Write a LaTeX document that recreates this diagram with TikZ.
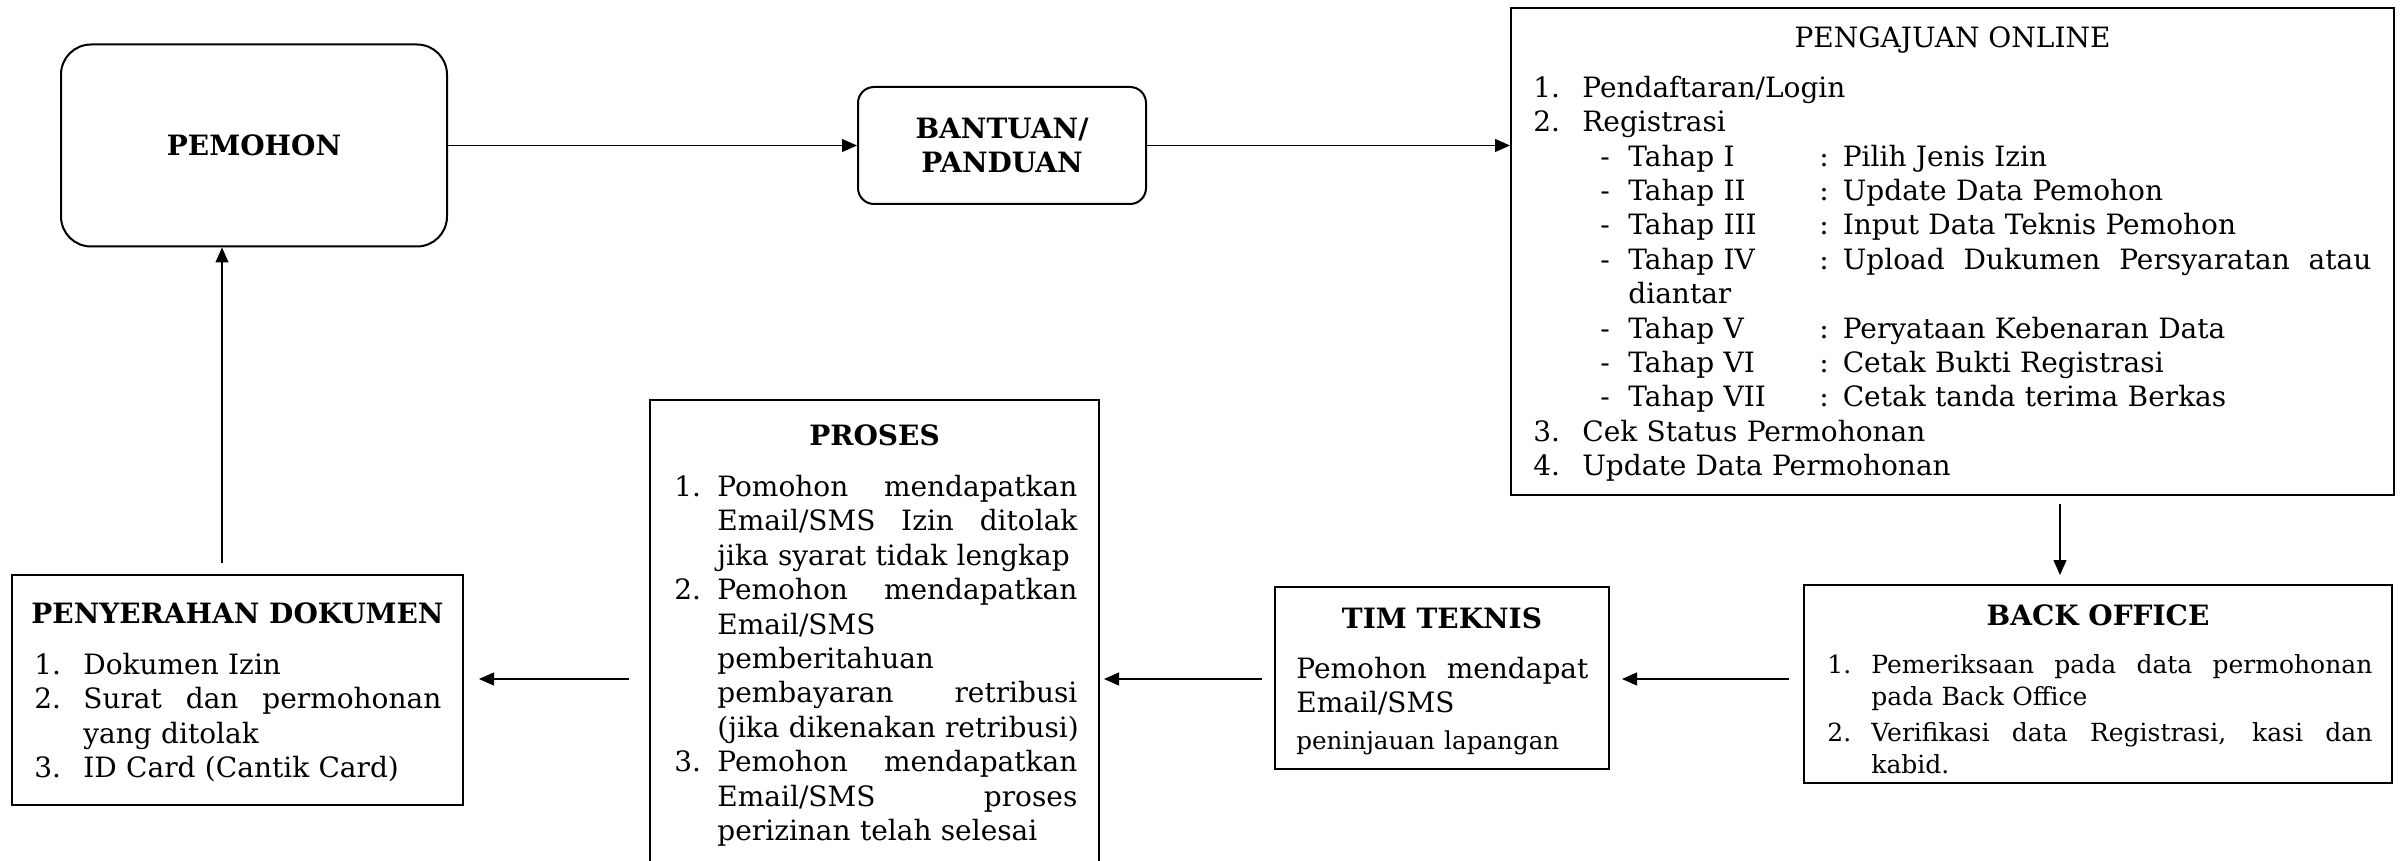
\documentclass[tikz,border=0pt]{standalone}
\usepackage{fontspec}
\setmainfont{DejaVu Serif}
\usetikzlibrary{arrows.meta}
\setlength\parindent{0pt}
\newcommand\jl[2]{\hbox to #1{\spaceskip=.3333em plus 1fil\relax #2}}
\begin{document}
\begin{tikzpicture}[x=0.5pt,y=-0.5pt,
  box/.style={draw, line width=1pt, inner sep=0pt},
  rbox/.style={box, rounded corners=#1},
  ttl/.style={font=\fontsize{14}{17}\selectfont\bfseries, inner sep=0pt, anchor=base},
  txt/.style={font=\fontsize{14}{17.2}\selectfont, inner sep=0pt, anchor=north west, align=left},
  arr/.style={line width=0.6pt, -{Triangle[length=7.5pt,width=6.5pt]}}]
\useasboundingbox (0,0) rectangle (2403,861);
\clip (0,0) rectangle (2403,861);

% boxes
\node[rbox=15pt, minimum width=193pt, minimum height=101pt, font=\fontsize{14}{17}\selectfont\bfseries] (pemohon) at (254,145.5) {PEMOHON};
\node[rbox=8pt, minimum width=144pt, minimum height=58.5pt, align=center, font=\fontsize{14}{17}\selectfont\bfseries] (bantuan) at (1002,145.5) {BANTUAN/\\PANDUAN};
\node[box, minimum width=441.5pt, minimum height=243.5pt] (pengajuan) at (1952.5,251.5) {};
\node[box, minimum width=294pt, minimum height=99pt] (backoffice) at (2098,684) {};
\node[box, minimum width=167pt, minimum height=91pt] (timteknis) at (1442,678) {};
\node[box, minimum width=224.5pt, minimum height=250pt] (proses) at (874.5,650) {};
\node[box, minimum width=225.5pt, minimum height=115pt] (penyerahan) at (237.5,690) {};

% PENGAJUAN ONLINE
\node[inner sep=0pt, anchor=base, font=\fontsize{14}{17}\selectfont] (pjtitle) at (1952.5,48) {PENGAJUAN ONLINE};
\node[txt, text width=419.5pt] (pjtext) at (1533,73) {%
\rule{0pt}{12pt}\makebox[24.5pt][l]{1.}Pendaftaran/Login\\
\makebox[24.5pt][l]{2.}Registrasi\\
\hspace*{33.5pt}\makebox[14pt][l]{-}\makebox[95.5pt][l]{Tahap I}: Pilih Jenis Izin\\
\hspace*{33.5pt}\makebox[14pt][l]{-}\makebox[95.5pt][l]{Tahap II}: Update Data Pemohon\\
\hspace*{33.5pt}\makebox[14pt][l]{-}\makebox[95.5pt][l]{Tahap III}: Input Data Teknis Pemohon\\
\hspace*{33.5pt}\makebox[14pt][l]{-}\makebox[95.5pt][l]{Tahap IV}\jl{276pt}{: Upload Dukumen Persyaratan atau}\\
\hspace*{47.5pt}diantar\\
\hspace*{33.5pt}\makebox[14pt][l]{-}\makebox[95.5pt][l]{Tahap V}: Peryataan Kebenaran Data\\
\hspace*{33.5pt}\makebox[14pt][l]{-}\makebox[95.5pt][l]{Tahap VI}: Cetak Bukti Registrasi\\
\hspace*{33.5pt}\makebox[14pt][l]{-}\makebox[95.5pt][l]{Tahap VII}: Cetak tanda terima Berkas\\
\makebox[24.5pt][l]{3.}Cek Status Permohonan\\
\makebox[24.5pt][l]{4.}Update Data Permohonan};

% BACK OFFICE
\node[ttl] (botitle) at (2098,625) {BACK OFFICE};
\node[txt, text width=273pt, font=\fontsize{12.5}{16}\selectfont] (botext) at (1827,651) {%
\rule{0pt}{11pt}\makebox[22pt][l]{1.}\jl{250.5pt}{Pemeriksaan pada data permohonan}\\
\hspace*{22pt}pada Back Office\\[2pt]
\makebox[22pt][l]{2.}\jl{250.5pt}{Verifikasi data Registrasi, kasi dan}\\
\hspace*{22pt}kabid.};

% TIM TEKNIS
\node[ttl] (tttitle) at (1442,628) {TIM TEKNIS};
\node[txt, text width=147pt] (tttext) at (1296,654) {%
\rule{0pt}{12pt}\jl{146pt}{Pemohon mendapat}\\
Email/SMS\\[1pt]
{\fontsize{12.3}{15}\selectfont peninjauan lapangan}};

% PROSES
\node[ttl] (prtitle) at (874.5,445) {PROSES};
\node[txt, text width=205pt] (prtext) at (674,472) {%
\rule{0pt}{12pt}\makebox[21.5pt][l]{1.}\jl{180pt}{Pomohon mendapatkan}\\
\hspace*{21.5pt}\jl{180pt}{Email/SMS Izin ditolak}\\
\hspace*{21.5pt}jika syarat tidak lengkap\\
\makebox[21.5pt][l]{2.}\jl{180pt}{Pemohon mendapatkan}\\
\hspace*{21.5pt}Email/SMS\\
\hspace*{21.5pt}pemberitahuan\\
\hspace*{21.5pt}\jl{180pt}{pembayaran retribusi}\\
\hspace*{21.5pt}\mbox{(jika dikenakan retribusi)}\\
\makebox[21.5pt][l]{3.}\jl{180pt}{Pemohon mendapatkan}\\
\hspace*{21.5pt}\jl{180pt}{Email/SMS proses}\\
\hspace*{21.5pt}perizinan telah selesai};

% PENYERAHAN DOKUMEN
\node[ttl] (pdtitle) at (237.5,623) {PENYERAHAN DOKUMEN};
\node[txt, text width=205pt] (pdtext) at (34,650) {%
\rule{0pt}{12pt}\makebox[24.5pt][l]{1.}Dokumen Izin\\
\makebox[24.5pt][l]{2.}\jl{179pt}{Surat dan permohonan}\\
\hspace*{24.5pt}yang ditolak\\
\makebox[24.5pt][l]{3.}ID Card (Cantik Card)};

% connectors
\coordinate (row) at (0,679);
\coordinate (down) at (2060,0);
\coordinate (up) at (222,0);
\draw[arr] (pemohon) -- (bantuan);
\draw[arr] (bantuan.east) -- (bantuan.east -| pengajuan.west);
\draw[arr, shorten <=4pt, shorten >=4.5pt] (down |- pengajuan.south) -- (down |- backoffice.north);
\draw[arr, shorten <=7pt, shorten >=6pt] (backoffice.west |- row) -- (timteknis.east |- row);
\draw[arr, shorten <=6pt, shorten >=2pt] (timteknis.west |- row) -- (proses.east |- row);
\draw[arr, shorten <=10pt, shorten >=7.5pt] (proses.west |- row) -- (penyerahan.east |- row);
\draw[arr, shorten <=5.5pt] (up |- penyerahan.north) -- (up |- pemohon.south);
\end{tikzpicture}
\end{document}
